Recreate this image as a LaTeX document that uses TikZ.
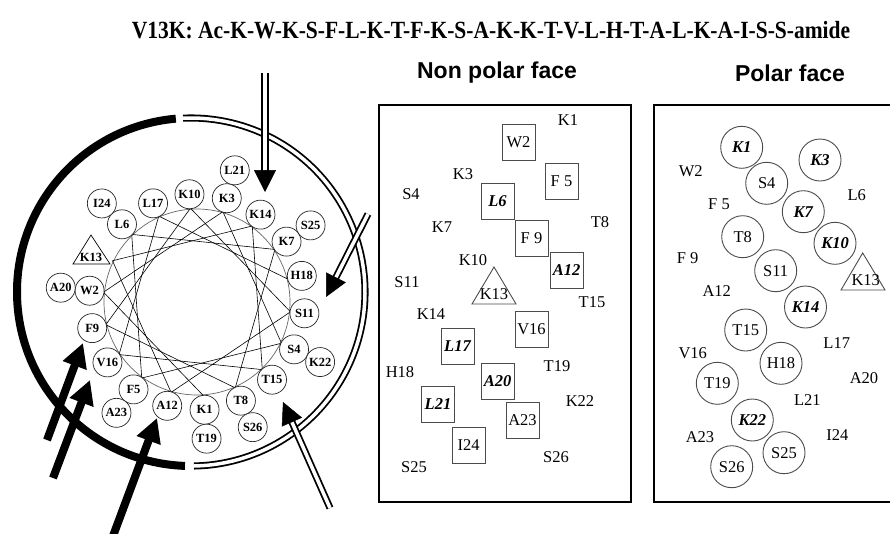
\documentclass[tikz,border=0pt]{standalone}
\usepackage{fontspec}
\setmainfont{Liberation Serif}
\newfontfamily\headsans{Liberation Sans}
\usetikzlibrary{arrows.meta,calc}
\begin{document}
\begin{tikzpicture}[x=1pt,y=-1pt,
  res/.style={circle,draw=black!85,fill=white,line width=0.7pt,minimum size=29pt,inner sep=0pt,font=\fontsize{12.5}{13}\selectfont\bfseries},
  lab/.style={inner sep=0pt,font=\fontsize{16.5}{18}\selectfont},
  sqbox/.style={draw=black!70,fill=white,line width=0.9pt,minimum width=33pt,minimum height=36pt,inner sep=0pt,font=\fontsize{16.5}{18}\selectfont},
  pcirc/.style={circle,draw=black!70,line width=0.9pt,minimum size=42pt,inner sep=0pt,font=\fontsize{16.5}{18}\selectfont},
  bi/.style={font=\fontsize{16.5}{18}\selectfont\bfseries\itshape},
  facebox/.style={draw,line width=2.5pt},
  dblline/.style={double,double distance=3.5pt,line width=1.8pt},
  thickarrow/.style={line width=8pt,-{Triangle[length=24pt,width=24pt]}},
  headtip/.style={line width=0.5pt,-{Triangle[length=22pt,width=22pt]}},
  facetitle/.style={font=\headsans\fontsize{23}{26}\selectfont\bfseries}
]
\useasboundingbox[fill=white] (0,0) rectangle (890,533);

% title
\node[font=\fontsize{21.5}{24}\selectfont\bfseries] (title) at (491,30) {\scalebox{1}[1.15]{V13K: Ac-K-W-K-S-F-L-K-T-F-K-S-A-K-K-T-V-L-H-T-A-L-K-A-I-S-S-amide}};

% ---------- helical wheel ----------
\coordinate (c2) at (191,292);
\coordinate (c) at (197,302);
\draw[line width=8pt] (c2) ++(-95:174) arc[start angle=-95,end angle=-268,radius=174];
\draw[dblline] (c2) ++(-271:174) arc[start angle=-271,end angle=-452.6,radius=174];

\draw[black!60,line width=0.7pt] (c) circle[radius=93];
\foreach \n in {1,...,18} \coordinate (v\n) at ($(c)+({100*(\n-1)-274}:94)$);
\foreach \n [evaluate=\n as \m using int(\n+1)] in {1,...,17} \draw[line width=0.6pt] (v\n) -- (v\m);

\foreach \n/\lab in {1/K1,2/W2,3/K3,4/S4,5/F5,6/L6,7/K7,8/T8,9/F9,10/K10,11/S11,12/A12,14/K14,15/T15,16/V16,17/L17,18/H18}
  \node[res] (r\n) at ($(c)+({100*(\n-1)-274}:108)$) {\lab};
\foreach \n/\lab in {19/T19,20/A20,21/L21,22/K22,23/A23,24/I24,25/S25,26/S26}
  \node[res] (r\n) at ($(c)+({100*(\n-1)-274}:137)$) {\lab};
\coordinate (t13a) at (91,235);
\coordinate (t13b) at (73,264);
\coordinate (t13c) at (110,264);
\draw[line width=0.7pt] (t13a) -- (t13b) -- (t13c) -- cycle;
\node[inner sep=0pt,font=\fontsize{12.5}{13}\selectfont\bfseries] (r13) at (91,257) {K13};

% thick arrows
\coordinate (ta1s) at (47,440); \coordinate (ta1e) at (83,343);
\coordinate (ta2s) at (53,478); \coordinate (ta2e) at (90,380);
\coordinate (ta3s) at (113,536); \coordinate (ta3e) at (157,418);
\foreach \i in {1,2,3} \draw[thickarrow] (ta\i s) -- (ta\i e);

% double arrows
\coordinate (da1s) at (265,73); \coordinate (da1e) at (265,192);
\coordinate (da2s) at (368,214); \coordinate (da2e) at (326,297);
\coordinate (da3s) at (330,508); \coordinate (da3e) at (283,402);
\foreach \i in {1,2,3} {
  \draw[dblline,shorten >=18pt] (da\i s) -- (da\i e);
  \draw[headtip] ($(da\i e)!21pt!(da\i s)$) -- (da\i e);
}

% ---------- face titles ----------
\node[facetitle] (npt) at (497,73) {Non polar face};
\node[facetitle] (pt) at (790,73) {Polar face};

% ---------- non polar face ----------
\draw[facebox] (379,105) rectangle (631,502);
\foreach \nm/\x/\y/\lab in {np1/568/120/K1, np3/463/174/K3, np4/411/194/S4, np8/600/222/T8, np7/442/227/K7, np10/473/260/K10, np11/407/282/S11, np15/592/302/T15, np14/431/314/K14, np18/400/372/H18, np19/557/366/T19, np22/580/401/K22, np25/414/467/S25, np26/556/457/S26}
  \node[lab] (\nm) at (\x,\y) {\lab};
\foreach \nm/\x/\y/\lab in {np2/518.5/142/W2, np5/561.5/181/F 5, np9/531.5/238/F 9, np16/531.5/329/V16, np23/522.5/420.5/A23, np24/468.5/445/I24}
  \node[sqbox] (\nm) at (\x,\y) {\lab};
\foreach \nm/\x/\y/\lab in {np6/497.5/201.5/L6, np12/566.5/270.5/A12, np17/457.5/346.5/L17, np20/497.5/381/A20, np21/438/404.5/L21}
  \node[sqbox,bi] (\nm) at (\x,\y) {\lab};
\coordinate (nta) at (494,267); \coordinate (ntb) at (472,304); \coordinate (ntc) at (516,304);
\draw[black!70,line width=0.9pt] (nta) -- (ntb) -- (ntc) -- cycle;
\node[lab] (np13) at (494,294) {K13};

% ---------- polar face ----------
\draw[facebox] (895,105) -- (654,105) -- (654,502) -- (895,502);
\foreach \nm/\x/\y/\lab in {p2/690.7/171/W2, p6/856.7/195/L6, p5/719/204/F 5, p9/687.7/258.3/F 9, p12/716.7/290.7/A12, p17/836.7/343.3/L17, p16/692.7/352.7/V16, p20/864/377.7/A20, p21/807.3/400/L21, p23/700/436.7/A23, p24/837.3/435/I24}
  \node[lab] (\nm) at (\x,\y) {\lab};
\foreach \nm/\x/\y/\lab in {p4/766.7/183.3/S4, p8/742.7/236.7/T8, p11/775.7/270.7/S11, p15/745.7/330/T15, p18/781/363.3/H18, p19/717.3/383.3/T19, p25/784/452.7/S25, p26/731.7/466.7/S26}
  \node[pcirc] (\nm) at (\x,\y) {\lab};
\foreach \nm/\x/\y/\lab in {p1/741.7/147.3/K1, p3/820/160/K3, p7/803.3/211.7/K7, p10/835/243.3/K10, p14/805.5/307/K14, p22/752.3/420/K22}
  \node[pcirc,bi] (\nm) at (\x,\y) {\lab};
\coordinate (pta) at (862.7,253); \coordinate (ptb) at (841,290); \coordinate (ptc) at (885,290);
\draw[black!70,line width=0.9pt] (pta) -- (ptb) -- (ptc) -- cycle;
\node[lab] (p13) at (865.7,280) {K13};
\end{tikzpicture}
\end{document}
